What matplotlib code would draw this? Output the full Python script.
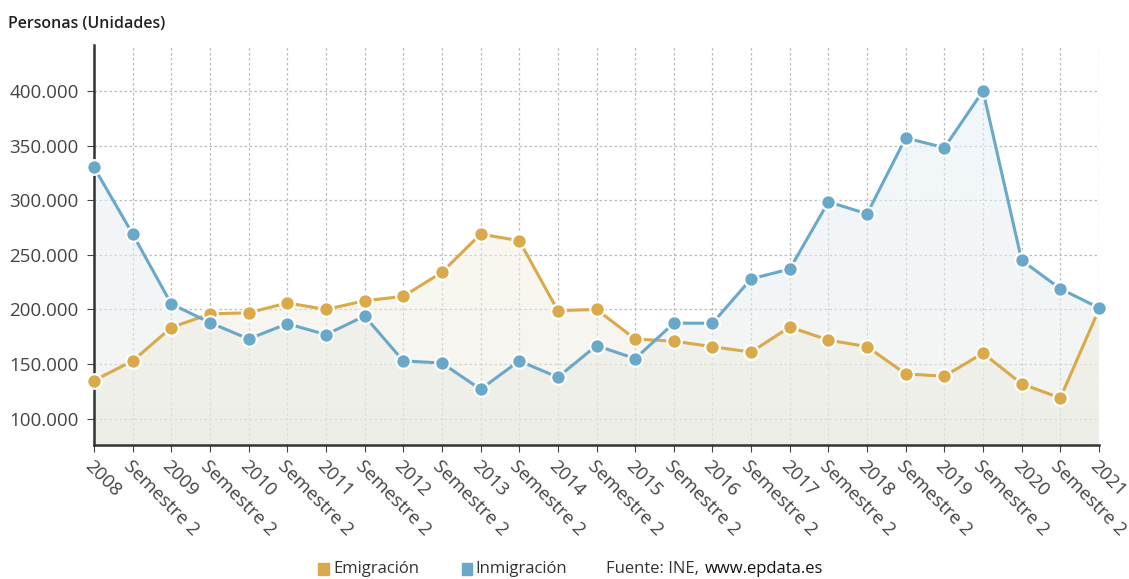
import numpy as np
import matplotlib
matplotlib.use("Agg")
from matplotlib import pyplot as plt
from matplotlib.patches import Polygon
from matplotlib.ticker import FuncFormatter
from matplotlib.colors import to_rgb

plt.rcParams['font.family'] = ['Open Sans', 'DejaVu Sans']

anios = ["2008", "2009", "2010", "2011", "2012", "2013", "2014",
         "2015", "2016", "2017", "2018", "2019", "2020", "2021"]
etiquetas = []
for a in anios:
    etiquetas.append(a)
    if a != "2021":
        etiquetas.append("Semestre 2")

emigracion = [135000, 153000, 183500, 196000, 197000, 206000, 200000, 208000, 212000,
              234000, 269000, 263000, 199000, 200000, 173000, 171000, 166000, 161000,
              184000, 172000, 166000, 141000, 139000, 160000, 132000, 119000, 200000]
inmigracion = [330000, 269000, 205000, 188000, 173000, 187000, 177000, 194000, 153000,
               151000, 127000, 153000, 138000, 167000, 155000, 187500, 187500, 228000,
               237000, 298500, 287500, 357000, 348000, 400000, 245000, 219000, 201500]

col_emi = "#d9a94a"
col_inm = "#6aa8c9"
ymin, ymax = 76000, 442000

fig = plt.figure(figsize=(11.29, 5.79), dpi=100)
ax = fig.add_axes([0.0833, 0.2314, 0.8901, 0.6909])
x = np.arange(len(etiquetas))


def relleno(ax, x, y, c_top, c_bot, alpha):
    n = 200
    t = np.linspace(1, 0, n)[:, None, None]
    ct = np.array(to_rgb(c_top))[None, None, :]
    cb = np.array(to_rgb(c_bot))[None, None, :]
    rgb = ct * t + cb * (1 - t)
    img = np.concatenate([rgb, np.full((n, 1, 1), alpha)], axis=2)
    im = ax.imshow(img, aspect='auto', extent=[x[0], x[-1], ymin, ymax],
                   origin='upper', zorder=1, interpolation='bilinear')
    verts = np.vstack([[x[0], ymin], np.column_stack([x, y]), [x[-1], ymin]])
    poly = Polygon(verts, closed=True, facecolor='none', edgecolor='none')
    ax.add_patch(poly)
    im.set_clip_path(poly)


relleno(ax, x, inmigracion, "#e6f1fc", "#eaece6", 0.55)
relleno(ax, x, emigracion, "#fdf4e0", "#e9e9e1", 0.5)

ax.plot(x, emigracion, color=col_emi, lw=2.2, marker='o', ms=10.5,
        mfc=col_emi, mec='white', mew=1.6, zorder=4, clip_on=False)
ax.plot(x, inmigracion, color=col_inm, lw=2.2, marker='o', ms=10.5,
        mfc=col_inm, mec='white', mew=1.6, zorder=5, clip_on=False)

ax.set_xlim(0, len(etiquetas) - 1)
ax.set_ylim(ymin, ymax)
ax.set_yticks([100000, 150000, 200000, 250000, 300000, 350000, 400000])
ax.yaxis.set_major_formatter(FuncFormatter(lambda v, p: f"{int(v):,}".replace(",", ".")))
ax.set_xticks(x)
ax.set_xticklabels(etiquetas, rotation=-45, ha='left', va='top',
                   rotation_mode='anchor', fontsize=13.5, color='#444444')
ax.tick_params(axis='y', labelsize=13.5, labelcolor='#444444', length=5,
               color='#444444', pad=6)
ax.tick_params(axis='x', length=5, color='#444444', pad=4)
ax.grid(True, color='#bbbbbb', linestyle=(0, (2, 2)), lw=0.9)
ax.set_axisbelow(True)
for s in ['top', 'right']:
    ax.spines[s].set_visible(False)
for s in ['left', 'bottom']:
    ax.spines[s].set_color('#333333')
    ax.spines[s].set_linewidth(1.8)

fig.text(0.007, 0.958, "Personas (Unidades)", fontsize=11.5, color='#222222',
         weight='semibold', va='center')

ly = 0.017
fig.patches.append(plt.Rectangle((0.2815, ly - 0.010), 0.0095, 0.02, color=col_emi,
                                 transform=fig.transFigure, figure=fig))
fig.text(0.295, ly, "Emigración", fontsize=12, color='#333333', va='center')
fig.patches.append(plt.Rectangle((0.409, ly - 0.010), 0.0095, 0.02, color=col_inm,
                                 transform=fig.transFigure, figure=fig))
fig.text(0.4215, ly, "Inmigración", fontsize=12, color='#333333', va='center')
fig.text(0.537, ly, "Fuente: INE,", fontsize=12, color='#333333', va='center')
fig.text(0.624, ly, "www.epdata.es", fontsize=12, color='#111111', va='center')

plt.savefig("out.png", dpi=100)
